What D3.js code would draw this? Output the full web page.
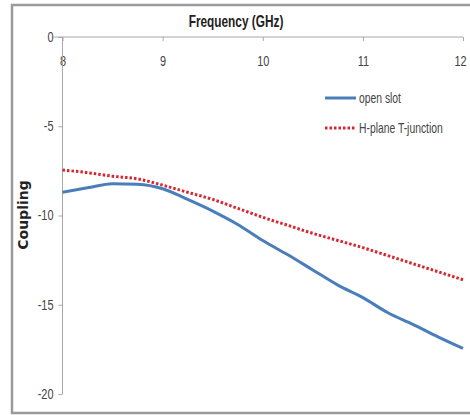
<!DOCTYPE html>
<html>
<head>
<meta charset="utf-8">
<style>
body
{
  margin:0;
  background:#fff;
}
text
{
  font-family:"Liberation Sans",Arial,sans-serif;
}
</style>
<script src="https://cdnjs.cloudflare.com/ajax/libs/d3/7.8.5/d3.min.js"></script>
</head>
<body>
<script>
// values
var freq = [8, 8.25, 8.5, 8.75, 9, 9.25, 9.5, 9.75, 10, 10.25, 10.5, 10.75, 11, 11.25, 11.5, 11.75, 12];
var openSlot = [-8.7, -8.45, -8.22, -8.25, -8.5, -9.1, -9.75, -10.5, -11.4, -12.2, -13.05, -13.9, -14.6, -15.45, -16.1, -16.8, -17.45];
var hPlane = [-7.45, -7.6, -7.8, -7.95, -8.3, -8.7, -9.1, -9.6, -10.1, -10.55, -11.0, -11.4, -11.8, -12.25, -12.7, -13.15, -13.6];
var xTicks = [8, 9, 10, 11, 12];
var yTicks = [0, -5, -10, -15, -20];
var seriesNames = ["open slot", "H-plane T-junction"];

var w = 470, h = 415;

var svg = d3.select("body")
  .append("svg")
  .attr("width", w)
  .attr("height", h);

// squeeze a text sideways, the original uses a narrow font
function condense(sel, k)
{
  sel.each(function(){
    var len = this.getComputedTextLength();
    d3.select(this)
      .attr("textLength", len * k)
      .attr("lengthAdjust", "spacingAndGlyphs");
  });
}

// chart frame
svg.append("rect")
  .attr("x", 12).attr("y", 5)
  .attr("width", 470).attr("height", 408)
  .style("fill", "none")
  .style("stroke", "#9a9a9a")
  .style("stroke-width", 2.5);

var x = d3.scaleLinear().domain([8, 12]).range([62.5, 463]);
var y = d3.scaleLinear().domain([0, -20]).range([37, 394]);

var fmt = function(d){ return String(d); }; // plain hyphen minus, like the original

// x axis at the top (y = 0)
var xAxis = svg.append("g")
  .attr("transform", "translate(0," + y(0) + ")")
  .call(d3.axisBottom(x).tickValues(xTicks).tickFormat(fmt).tickSize(4).tickSizeOuter(0).tickPadding(15));

var yAxis = svg.append("g")
  .attr("transform", "translate(" + x(8) + ",0)")
  .call(d3.axisLeft(y).tickValues(yTicks).tickFormat(fmt).tickSize(4).tickSizeOuter(0).tickPadding(5));

[xAxis, yAxis].forEach(function(g){
  g.select(".domain").style("stroke", "#a8a8a8");
  g.selectAll(".tick line").style("stroke", "#a8a8a8");
  g.selectAll(".tick text").style("font-size", "14px").style("fill", "#444");
  condense(g.selectAll(".tick text"), 0.78);
});
// keep the last label inside the window
xAxis.selectAll(".tick text").filter(function(d){ return d == 12; }).attr("dx", -3);
// the y axis line starts at the x axis and the 0 tick reaches left
yAxis.select(".domain").attr("d", "M0," + y(0) + "V" + y(-20));
xAxis.select(".domain").attr("d", "M" + (x(8) - 9) + ",0H" + x(12));

var line = d3.line()
  .x(function(d){ return x(d[0]); })
  .y(function(d){ return y(d[1]); })
  .curve(d3.curveMonotoneX);

svg.append("path")
  .datum(d3.zip(freq, openSlot))
  .attr("d", line)
  .style("fill", "none")
  .style("stroke", "#4a7ebb")
  .style("stroke-width", 3);

svg.append("path")
  .datum(d3.zip(freq, hPlane))
  .attr("d", line)
  .style("fill", "none")
  .style("stroke", "#d9262e")
  .style("stroke-width", 3)
  .style("stroke-dasharray", "2.5,2");

// titles
svg.append("text")
  .attr("transform", "translate(236,27) scale(0.74,1)")
  .attr("text-anchor", "middle")
  .style("font-size", "16px")
  .style("font-weight", "bold")
  .style("fill", "#222")
  .text("Frequency (GHz)");

svg.append("text")
  .attr("transform", "translate(28,215) rotate(-90)")
  .attr("text-anchor", "middle")
  .style("font-size", "14px")
  .style("font-weight", "bold")
  .style("font-family", "'DejaVu Sans', sans-serif")
  .style("fill", "#222")
  .text("Coupling");

// legend
var legend = svg.append("g");
seriesNames.forEach(function(name, i){
  var ly = 98 + i * 30;
  var ln = legend.append("line")
    .attr("x1", 325).attr("x2", 356)
    .attr("y1", ly).attr("y2", ly)
    .style("stroke-width", 3);
  if(i == 0)
  {
    ln.style("stroke", "#4a7ebb");
  }
  else
  {
    ln.style("stroke", "#d9262e").style("stroke-dasharray", "2.5,2");
  }
  legend.append("text")
    .attr("transform", "translate(359," + (ly + 5) + ") scale(0.74,1)")
    .style("font-size", "14px")
    .style("fill", "#444")
    .text(name);
});
</script>
</body>
</html>
